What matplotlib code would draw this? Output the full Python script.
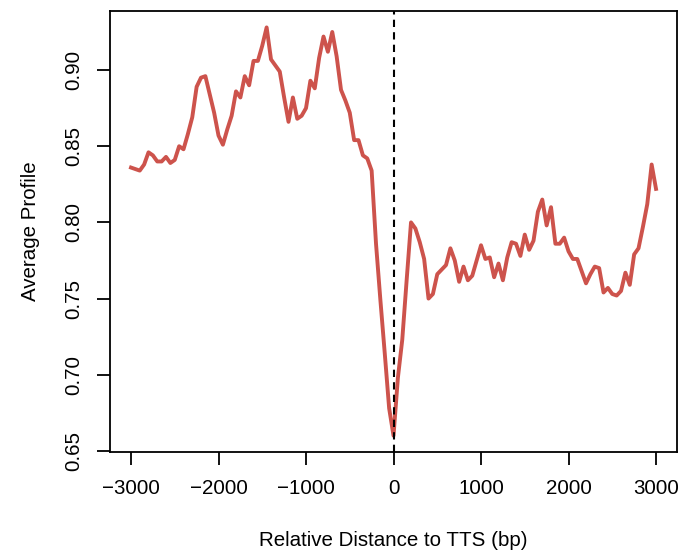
import numpy as np
import matplotlib.pyplot as plt

plt.rcParams['font.family'] = ['Liberation Sans', 'DejaVu Sans']

# distancia ao TTS em passos de 50 bp
distance = np.arange(-3000, 3001, 50)

# perfil medio
upstream = [0.836, 0.835, 0.834, 0.838, 0.846, 0.844, 0.840, 0.840, 0.843, 0.839,
            0.841, 0.850, 0.848, 0.858, 0.869, 0.889, 0.895, 0.896, 0.884, 0.872,
            0.857, 0.851, 0.861, 0.870, 0.886, 0.882, 0.896, 0.890, 0.906, 0.906,
            0.916, 0.928, 0.907, 0.903, 0.899, 0.882, 0.866, 0.882, 0.868, 0.870,
            0.875, 0.893, 0.888, 0.908, 0.922, 0.912, 0.925, 0.909, 0.887, 0.880,
            0.872, 0.854, 0.854, 0.844, 0.842, 0.834, 0.786, 0.749, 0.714, 0.678]
downstream = [0.660, 0.698, 0.723, 0.762, 0.800, 0.796, 0.787, 0.776, 0.750, 0.753,
              0.766, 0.769, 0.772, 0.783, 0.775, 0.761, 0.771, 0.762, 0.765, 0.775,
              0.785, 0.776, 0.777, 0.764, 0.773, 0.762, 0.777, 0.787, 0.786, 0.778,
              0.792, 0.782, 0.788, 0.807, 0.815, 0.798, 0.810, 0.786, 0.786, 0.790,
              0.781, 0.776, 0.776, 0.768, 0.760, 0.766, 0.771, 0.770, 0.754, 0.757,
              0.753, 0.752, 0.755, 0.767, 0.759, 0.779, 0.783, 0.797, 0.812, 0.838,
              0.822]
profile = np.array(upstream + downstream)

x_ticks = [-3000, -2000, -1000, 0, 1000, 2000, 3000]
y_ticks = [0.65, 0.70, 0.75, 0.80, 0.85, 0.90]

fig = plt.figure(figsize=(6.82, 5.53), dpi=100)
ax = fig.add_axes([0.1613, 0.1826, 0.8314, 0.7974])

ax.plot(distance, profile, color='#CD534C', linewidth=2.8, solid_joinstyle='round')
ax.axvline(0, color='black', linestyle=(0, (3.5, 2.5)), linewidth=1.5)

# limites ao estilo do R (4% de margem)
rng = profile.max() - profile.min()
ax.set_xlim(-3000 - 240, 3000 + 240)
ax.set_ylim(profile.min() - 0.04 * rng, profile.max() + 0.04 * rng)

ax.set_xticks(x_ticks)
ax.set_xticklabels([f'\u2212{abs(v)}' if v < 0 else str(v) for v in x_ticks])
ax.set_yticks(y_ticks)
ax.set_yticklabels([f'{v:.2f}' for v in y_ticks], rotation=90, va='center')

for s in ax.spines.values():
    s.set_linewidth(1.3)
ax.tick_params(length=9.5, width=1.3, labelsize=14.8, pad=10)

ax.set_xlabel('Relative Distance to TTS (bp)', fontsize=14.8, labelpad=24)
ax.set_ylabel('Average Profile', fontsize=14.8, labelpad=17)

fig.savefig('out.png', dpi=100)
